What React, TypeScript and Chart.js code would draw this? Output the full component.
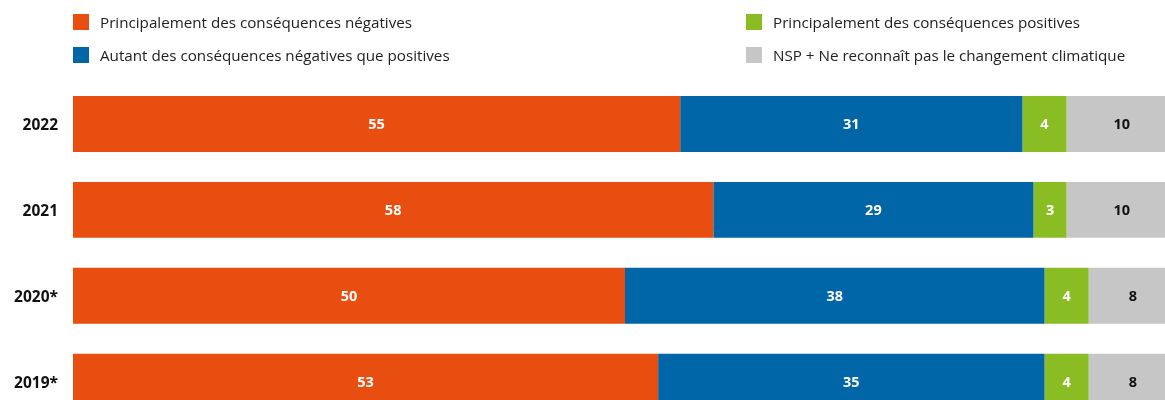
import React, { useEffect, useRef } from "react";
import { Chart, registerables } from "chart.js";

Chart.register(...registerables);

const categories = ["2022", "2021", "2020*", "2019*"];
const seriesNames = [
  "Principalement des conséquences négatives",
  "Autant des conséquences négatives que positives",
  "Principalement des conséquences positives",
  "NSP + Ne reconnaît pas le changement climatique",
];
const negatives = [55, 58, 50, 53];
const mixed = [31, 29, 38, 35];
const positives = [4, 3, 4, 4];
const unknown = [10, 10, 8, 8];
const colors = ["#E84E0F", "#0066A8", "#8ABD24", "#C6C6C6"];
const labelColors = ["#ffffff", "#ffffff", "#ffffff", "#111111"];

const FONT = "'Open Sans', 'Noto Sans', sans-serif";

const valueLabels = {
  id: "valueLabels",
  afterDatasetsDraw(chart: any) {
    const ctx = chart.ctx;
    ctx.save();
    ctx.font = `700 14.5px ${FONT}`;
    ctx.textAlign = "center";
    ctx.textBaseline = "middle";
    chart.data.datasets.forEach((ds: any, di: number) => {
      const meta = chart.getDatasetMeta(di);
      meta.data.forEach((el: any, i: number) => {
        const v = ds.data[i];
        const cx = (el.x + el.base) / 2;
        ctx.fillStyle = labelColors[di];
        ctx.fillText(String(v), cx, el.y + 1);
      });
    });
    ctx.restore();
  },
};

export default function App() {
  const ref = useRef<HTMLCanvasElement | null>(null);
  useEffect(() => {
    if (!ref.current) return;
    const data = [negatives, mixed, positives, unknown];
    const chart = new Chart(ref.current, {
      type: "bar",
      data: {
        labels: categories,
        datasets: data.map((d, i) => ({
          label: seriesNames[i],
          data: d,
          backgroundColor: colors[i],
          borderWidth: 0,
          barPercentage: 1,
          categoryPercentage: 56 / 86,
        })),
      },
      options: {
        indexAxis: "y",
        animation: false,
        responsive: false,
        maintainAspectRatio: false,
        layout: { padding: { top: 81, left: 0, right: 0, bottom: 24 } },
        plugins: {
          legend: { display: false },
          tooltip: { enabled: false },
        },
        scales: {
          x: {
            stacked: true,
            display: false,
            min: 0,
            max: 100,
          },
          y: {
            stacked: true,
            grid: { display: false, drawTicks: false },
            border: { display: false },
            ticks: {
              color: "#111",
              padding: 15,
              labelOffset: 2,
              font: { family: FONT, size: 15.5, weight: "bold" },
            },
            afterFit: (scale: any) => {
              scale.width = 73;
            },
          },
        },
      },
      plugins: [valueLabels],
    });
    return () => chart.destroy();
  }, []);

  const legendItem = (i: number, x: number, y: number) => (
    <div
      key={i}
      style={{
        position: "absolute",
        left: x,
        top: y,
        display: "flex",
        alignItems: "center",
        fontFamily: FONT,
        fontSize: 15.2,
        color: "#222",
        whiteSpace: "nowrap",
        height: 16,
      }}
    >
      <span
        style={{
          display: "inline-block",
          width: 16,
          height: 16,
          background: colors[i],
          marginRight: 11,
        }}
      />
      <span>{seriesNames[i]}</span>
    </div>
  );

  return (
    <div
      style={{
        position: "fixed",
        left: 0,
        top: 0,
        width: 1165,
        height: 400,
        overflow: "hidden",
        background: "#fff",
      }}
    >
      <div style={{ position: "absolute", left: 0, top: 0, width: 1177, height: 449 }}>
        <canvas
          ref={ref}
          width={1177}
          height={449}
          style={{ display: "block", width: 1177, height: 449 }}
        />
      </div>
      {legendItem(0, 73, 14)}
      {legendItem(1, 73, 47)}
      {legendItem(2, 746, 14)}
      {legendItem(3, 746, 47)}
    </div>
  );
}
